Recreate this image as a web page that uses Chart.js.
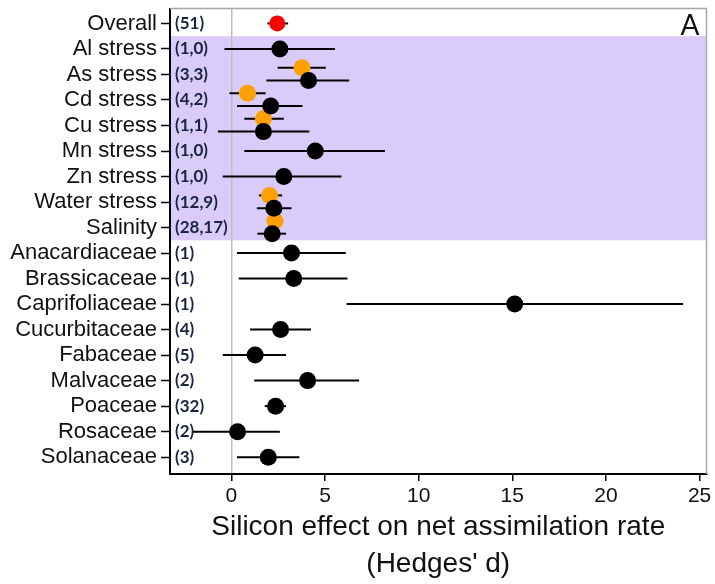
<!DOCTYPE html>
<html>
<head>
<meta charset="utf-8">
<script src="https://cdn.jsdelivr.net/npm/chart.js"></script>
<style>
  body { margin: 0; background: #fff; }
</style>
</head>
<body>
<canvas id="myChart" width="715" height="584"></canvas>
<script>
const labels = ["Overall", "Al stress", "As stress", "Cd stress", "Cu stress", "Mn stress", "Zn stress",
  "Water stress", "Salinity", "Anacardiaceae", "Brassicaceae", "Caprifoliaceae", "Cucurbitaceae",
  "Fabaceae", "Malvaceae", "Poaceae", "Rosaceae", "Solanaceae"];
const counts = ["(51)", "(1,0)", "(3,3)", "(4,2)", "(1,1)", "(1,0)", "(1,0)", "(12,9)", "(28,17)",
  "(1)", "(1)", "(1)", "(4)", "(5)", "(2)", "(32)", "(2)", "(3)"];

// overall effect (red)
const overallMean = [2.45, null, null, null, null, null, null, null, null, null, null, null, null, null, null, null, null, null];
const overallLow  = [1.92, null, null, null, null, null, null, null, null, null, null, null, null, null, null, null, null, null];
const overallHigh = [3.03, null, null, null, null, null, null, null, null, null, null, null, null, null, null, null, null, null];

// black points
const blackMean = [null, 2.59, 4.12, 2.10, 1.71, 4.48, 2.80, 2.27, 2.18, 3.21, 3.33, 15.13, 2.63, 1.27, 4.07, 2.36, 0.33, 1.97];
const blackLow  = [null, -0.37, 1.87, 0.30, -0.72, 0.69, -0.46, 1.36, 1.39, 0.30, 0.39, 6.15, 1.00, -0.46, 1.22, 1.78, -2.05, 0.30];
const blackHigh = [null, 5.53, 6.29, 3.80, 4.16, 8.20, 5.88, 3.21, 2.92, 6.11, 6.20, 24.12, 4.25, 2.92, 6.82, 2.92, 2.59, 3.63];

// orange points (second estimate for some stresses)
const orangeMean = [null, null, 3.77, 0.86, 1.71, null, null, 2.04, 2.33, null, null, null, null, null, null, null, null, null];
const orangeLow  = [null, null, 2.47, -0.10, 0.69, null, null, 1.48, 1.90, null, null, null, null, null, null, null, null, null];
const orangeHigh = [null, null, 5.04, 1.83, 2.80, null, null, 2.71, 2.70, null, null, null, null, null, null, null, null, null];

const xTicks = [0, 5, 10, 15, 20, 25];
const axisTitle = ["Silicon effect on net assimilation rate", "(Hedges' d)"];

function points(mean, low, high, shift) {
  const out = [];
  mean.forEach((m, i) => {
    if (m == null) return;
    const off = shift ? shift(i) : 0;
    out.push({ x: m, y: i + off, lo: low[i], hi: high[i] });
  });
  return out;
}

// rows with two estimates get split up and down a bit
const blackShift = i => (orangeMean[i] != null ? 0.24 : 0);
const orangeShift = i => -0.26;

const bgPlugin = {
  id: "bg",
  beforeDraw(chart) {
    const { ctx, chartArea } = chart;
    const y = chart.scales.y;
    const t = y.getPixelForValue(0.5), b = y.getPixelForValue(8.5);
    ctx.save();
    ctx.fillStyle = "#d9ccfa";
    ctx.fillRect(chartArea.left, t, chartArea.right - chartArea.left, b - t);
    ctx.restore();
  },
  beforeDatasetsDraw(chart) {
    const { ctx, chartArea } = chart;
    const y = chart.scales.y;
    ctx.save();
    ctx.font = "bold 17px Lato";
    ctx.fillStyle = "#1c2340";
    ctx.textAlign = "left";
    ctx.textBaseline = "middle";
    counts.forEach((c, i) => ctx.fillText(c, chartArea.left + 5, y.getPixelForValue(i)));
    ctx.font = "28px Lato";
    ctx.fillStyle = "#111";
    ctx.textAlign = "right";
    ctx.textBaseline = "alphabetic";
    ctx.fillText("A", chartArea.right - 7, chartArea.top + 26);
    ctx.restore();
  },
  beforeDatasetDraw(chart, args) {
    const { ctx } = chart;
    const ds = chart.data.datasets[args.index];
    const x = chart.scales.x, y = chart.scales.y;
    ctx.save();
    ctx.strokeStyle = "#000";
    ctx.lineWidth = 2;
    ds.data.forEach(p => {
      const py = y.getPixelForValue(p.y);
      ctx.beginPath();
      ctx.moveTo(x.getPixelForValue(p.lo), py);
      ctx.lineTo(x.getPixelForValue(p.hi), py);
      ctx.stroke();
    });
    ctx.restore();
  },
  afterDraw(chart) {
    const { ctx, chartArea } = chart;
    ctx.save();
    ctx.strokeStyle = "#a8a8a8";
    ctx.lineWidth = 1.5;
    ctx.beginPath();
    ctx.moveTo(chartArea.left, chartArea.top);
    ctx.lineTo(chartArea.right, chartArea.top);
    ctx.lineTo(chartArea.right, chartArea.bottom);
    ctx.stroke();
    ctx.restore();
  }
};

const chart = new Chart(document.getElementById("myChart"), {
  type: "scatter",
  data: {
    datasets: [
      {
        label: "overall",
        data: points(overallMean, overallLow, overallHigh),
        backgroundColor: "#ff0000",
        borderColor: "#ff0000",
        pointRadius: 8,
        borderWidth: 0,
        order: 0
      },
      {
        label: "black",
        data: points(blackMean, blackLow, blackHigh, blackShift),
        backgroundColor: "#000",
        borderColor: "#000",
        pointRadius: 8.5,
        borderWidth: 0,
        order: 1
      },
      {
        label: "orange",
        data: points(orangeMean, orangeLow, orangeHigh, orangeShift),
        backgroundColor: "#ffa000",
        borderColor: "#ffa000",
        pointRadius: 8.5,
        borderWidth: 0,
        order: 2
      }
    ]
  },
  options: {
    responsive: false,
    animation: false,
    events: [],
    layout: { padding: { top: 7, right: 3, left: 0, bottom: 0 } },
    plugins: { legend: { display: false }, tooltip: { enabled: false } },
    scales: {
      x: {
        type: "linear",
        min: -3.277,
        max: 25.37,
        afterBuildTicks: s => { s.ticks = xTicks.map(v => ({ value: v })); },
        afterFit: s => { s.height = 110; s.paddingLeft = 0; s.paddingRight = 0; },
        ticks: { font: { family: "Liberation Sans", size: 21 }, color: "#111", padding: 3, maxRotation: 0 },
        grid: {
          color: c => (c.tick && c.tick.value === 0 ? "#bdbdbd" : "rgba(0,0,0,0)"),
          lineWidth: 1.5,
          tickLength: 7,
          tickColor: "#000",
          tickWidth: 1.5
        },
        border: { color: "#000", width: 2 },
        title: {
          display: true,
          text: axisTitle,
          color: "#111",
          font: { family: "Liberation Sans", size: 28, lineHeight: 1.32 },
          padding: { top: 0, bottom: 1.5 }
        }
      },
      y: {
        type: "linear",
        reverse: true,
        min: -0.586,
        max: 17.66,
        afterBuildTicks: s => { s.ticks = labels.map((_, i) => ({ value: i })); },
        afterFit: s => { s.width = 170; s.paddingTop = 0; s.paddingBottom = 0; },
        ticks: {
          callback: v => labels[v],
          autoSkip: false,
          font: { family: "Liberation Sans", size: 22, lineHeight: 1 },
          color: "#111",
          padding: 4
        },
        grid: { drawOnChartArea: false, tickLength: 9, tickColor: "#000", tickWidth: 1.5 },
        border: { color: "#000", width: 2 }
      }
    }
  },
  plugins: [bgPlugin]
});
</script>
</body>
</html>
